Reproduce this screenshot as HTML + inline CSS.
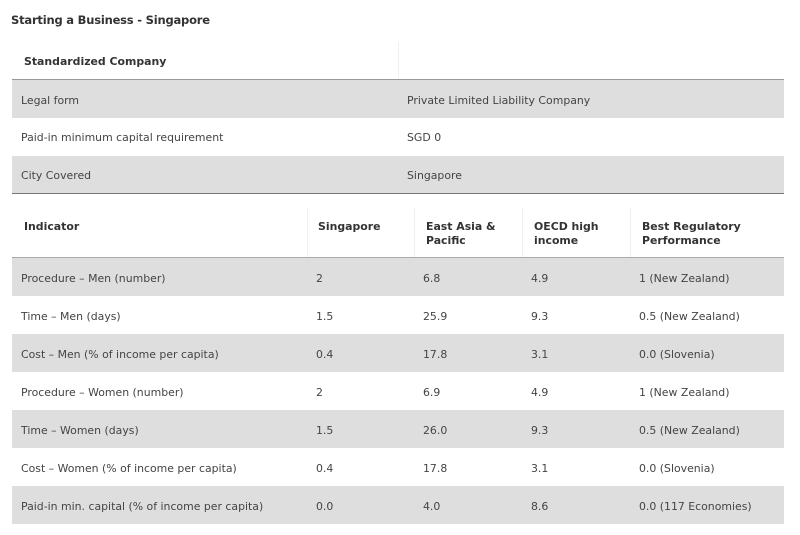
<!DOCTYPE html>
<html><head><style>
body{margin:0;width:800px;height:535px;background:#fff;font-family:"DejaVu Sans","Liberation Sans",sans-serif;color:#444;overflow:hidden;position:relative}
.t{position:absolute;left:11px;top:13px;font-size:11.5px;font-weight:bold;color:#333;letter-spacing:-0.2px}
.r{position:absolute;left:12px;width:772px;}
.g{background:#dedede}
.c{position:absolute;font-size:10.9px;line-height:14px}
.b{font-weight:bold;color:#333}
.line{position:absolute;left:12px;width:772px;height:1px;background:#777}
.v{position:absolute;width:1px;background:#f0f0f0}
</style></head><body>
<div class="t">Starting a Business - Singapore</div>
<div class="c b" style="left:24px;top:55px">Standardized Company</div>
<div class="v" style="left:398px;top:42px;height:37px"></div>
<div class="line" style="top:79px;background:#999"></div>
<div class="r g" style="top:80px;height:38px"></div>
<div class="r g" style="top:156px;height:37px"></div>
<div class="line" style="top:193px"></div>
<div class="c" style="left:21px;top:94px">Legal form</div><div class="c" style="left:407px;top:94px">Private Limited Liability Company</div>
<div class="c" style="left:21px;top:131px">Paid-in minimum capital requirement</div><div class="c" style="left:407px;top:131px">SGD 0</div>
<div class="c" style="left:21px;top:169px">City Covered</div><div class="c" style="left:407px;top:169px">Singapore</div>

<div class="v" style="left:307px;top:208px;height:49px"></div>
<div class="v" style="left:414px;top:208px;height:49px"></div>
<div class="v" style="left:522px;top:208px;height:49px"></div>
<div class="v" style="left:630px;top:208px;height:49px"></div>
<div class="c b" style="left:24px;top:220px">Indicator</div>
<div class="c b" style="left:318px;top:220px">Singapore</div>
<div class="c b" style="left:426px;top:220px">East Asia &amp;<br>Pacific</div>
<div class="c b" style="left:534px;top:220px">OECD high<br>income</div>
<div class="c b" style="left:642px;top:220px">Best Regulatory<br>Performance</div>
<div class="line" style="top:257px;background:#aaa"></div>
<div class="r g" style="top:258px;height:38px"></div>
<div class="r g" style="top:334px;height:38px"></div>
<div class="r g" style="top:410px;height:38px"></div>
<div class="r g" style="top:486px;height:38px"></div>
<div class="c" style="left:21px;top:272px">Procedure – Men (number)</div><div class="c" style="left:316px;top:272px">2</div><div class="c" style="left:423px;top:272px">6.8</div><div class="c" style="left:531px;top:272px">4.9</div><div class="c" style="left:639px;top:272px">1 (New Zealand)</div>
<div class="c" style="left:21px;top:310px">Time – Men (days)</div><div class="c" style="left:316px;top:310px">1.5</div><div class="c" style="left:423px;top:310px">25.9</div><div class="c" style="left:531px;top:310px">9.3</div><div class="c" style="left:639px;top:310px">0.5 (New Zealand)</div>
<div class="c" style="left:21px;top:348px">Cost – Men (% of income per capita)</div><div class="c" style="left:316px;top:348px">0.4</div><div class="c" style="left:423px;top:348px">17.8</div><div class="c" style="left:531px;top:348px">3.1</div><div class="c" style="left:639px;top:348px">0.0 (Slovenia)</div>
<div class="c" style="left:21px;top:386px">Procedure – Women (number)</div><div class="c" style="left:316px;top:386px">2</div><div class="c" style="left:423px;top:386px">6.9</div><div class="c" style="left:531px;top:386px">4.9</div><div class="c" style="left:639px;top:386px">1 (New Zealand)</div>
<div class="c" style="left:21px;top:424px">Time – Women (days)</div><div class="c" style="left:316px;top:424px">1.5</div><div class="c" style="left:423px;top:424px">26.0</div><div class="c" style="left:531px;top:424px">9.3</div><div class="c" style="left:639px;top:424px">0.5 (New Zealand)</div>
<div class="c" style="left:21px;top:462px">Cost – Women (% of income per capita)</div><div class="c" style="left:316px;top:462px">0.4</div><div class="c" style="left:423px;top:462px">17.8</div><div class="c" style="left:531px;top:462px">3.1</div><div class="c" style="left:639px;top:462px">0.0 (Slovenia)</div>
<div class="c" style="left:21px;top:500px">Paid-in min. capital (% of income per capita)</div><div class="c" style="left:316px;top:500px">0.0</div><div class="c" style="left:423px;top:500px">4.0</div><div class="c" style="left:531px;top:500px">8.6</div><div class="c" style="left:639px;top:500px">0.0 (117 Economies)</div>
</body></html>
